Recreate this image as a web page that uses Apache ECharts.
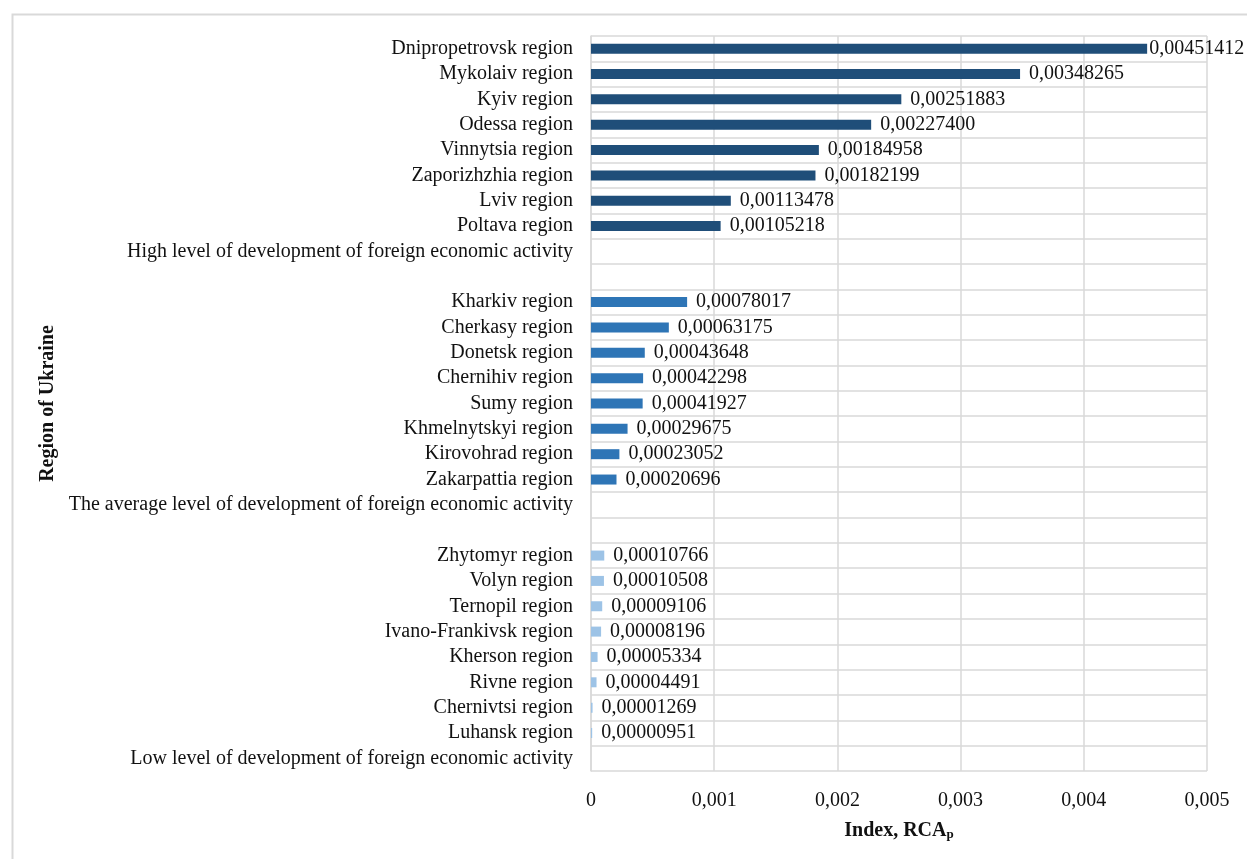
<!DOCTYPE html>
<html>
<head>
<meta charset="utf-8">
<script src="https://cdn.jsdelivr.net/npm/echarts@6/dist/echarts.min.js"></script>
<style>
html,body{margin:0;padding:0;background:#fff;}
#chart{width:1247px;height:859px;}
</style>
</head>
<body>
<div id="chart"></div>
<script>
// Categories, top to bottom
const categories = [
  "Dnipropetrovsk region","Mykolaiv region","Kyiv region","Odessa region","Vinnytsia region",
  "Zaporizhzhia region","Lviv region","Poltava region",
  "High level of development of foreign economic activity"," ",
  "Kharkiv region","Cherkasy region","Donetsk region","Chernihiv region","Sumy region",
  "Khmelnytskyi region","Kirovohrad region","Zakarpattia region",
  "The average level of development of foreign economic activity","  ",
  "Zhytomyr region","Volyn region","Ternopil region","Ivano-Frankivsk region","Kherson region",
  "Rivne region","Chernivtsi region","Luhansk region",
  "Low level of development of foreign economic activity"
];
const values = [
  0.00451412,0.00348265,0.00251883,0.00227400,0.00184958,0.00182199,0.00113478,0.00105218,
  null,null,
  0.00078017,0.00063175,0.00043648,0.00042298,0.00041927,0.00029675,0.00023052,0.00020696,
  null,null,
  0.00010766,0.00010508,0.00009106,0.00008196,0.00005334,0.00004491,0.00001269,0.00000951,
  null
];
const groups = [
  "high","high","high","high","high","high","high","high","high","high",
  "avg","avg","avg","avg","avg","avg","avg","avg","avg","avg",
  "low","low","low","low","low","low","low","low","low"
];
const xTicks = [0,0.001,0.002,0.003,0.004,0.005];

const groupColors = {high:"#1f4e79", avg:"#2e75b6", low:"#9dc3e6"};
const font = "'Liberation Serif','Times New Roman',serif";

const seriesData = values.map((v,i)=>{
  const item = {value:v, itemStyle:{color:groupColors[groups[i]]}};
  if (i === 0) item.label = {distance:2};
  return item;
});

const chart = echarts.init(document.getElementById('chart'), null, {renderer:'canvas'});
chart.setOption({
  animation:false,
  backgroundColor:'#fff',
  graphic:[{
    type:'rect', left:10, top:12, silent:true,
    shape:{x:0,y:0,width:1400,height:1000},
    style:{fill:'none', stroke:'#d9d9d9', lineWidth:2}
  }],
  grid:{left:591, right:40, top:36, bottom:88, containLabel:false},
  xAxis:{
    type:'value', min:0, max:0.005, interval:0.001,
    axisLine:{show:false}, axisTick:{show:false},
    splitLine:{show:true, lineStyle:{color:'#d9d9d9', width:1.5}},
    axisLabel:{
      fontFamily:font, fontSize:20, color:'#111', margin:20,
      formatter:(v)=>{ const t = xTicks.find(x=>Math.abs(x-v)<1e-9); const s = (t===0?'0':String(+v.toFixed(3))); return s.replace('.',','); }
    },
    name:'{b|Index, RCA}{s|p}', nameLocation:'middle', nameGap:49,
    nameTextStyle:{
      rich:{
        b:{fontFamily:font, fontSize:20, fontWeight:'bold', color:'#111'},
        s:{fontFamily:font, fontSize:13, fontWeight:'bold', color:'#111', verticalAlign:'bottom', padding:[8,0,0,0]}
      }
    }
  },
  yAxis:{
    type:'category', data:categories, inverse:true,
    axisLine:{show:true, lineStyle:{color:'#d9d9d9', width:1.5}},
    axisTick:{show:false},
    splitLine:{show:true, lineStyle:{color:'#d9d9d9', width:1.5}},
    axisLabel:{fontFamily:font, fontSize:20, color:'#111', margin:18, interval:0},
    name:'Region of Ukraine', nameLocation:'middle', nameGap:533, nameRotate:90,
    nameTextStyle:{fontFamily:font, fontSize:20, fontWeight:'bold', color:'#111'}
  },
  series:[{
    type:'bar', data:seriesData, barWidth:10,
    label:{
      show:true, position:'right', distance:9,
      fontFamily:font, fontSize:20, color:'#111',
      formatter:(p)=> p.value==null ? '' : p.value.toFixed(8).replace('.',',')
    }
  }]
});
</script>
</body>
</html>
